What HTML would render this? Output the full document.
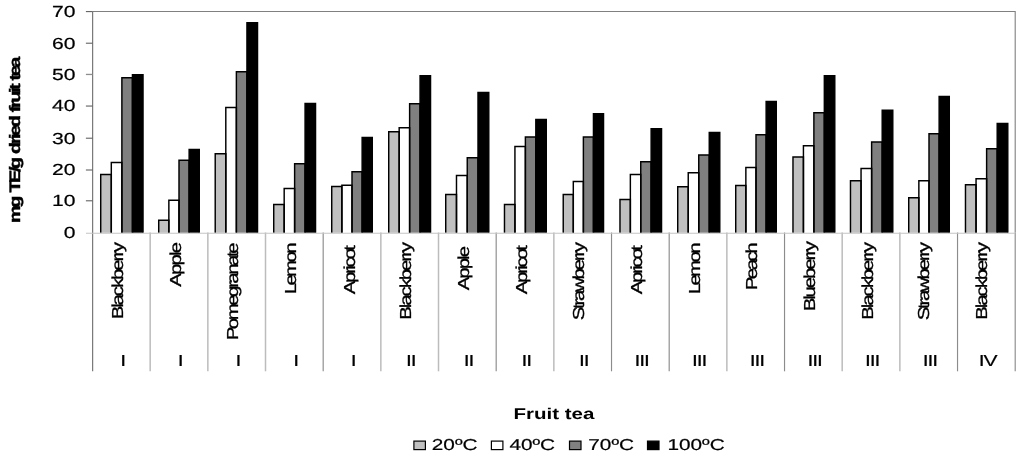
<!DOCTYPE html>
<html lang="en"><head><meta charset="utf-8"><title>Fruit tea chart</title>
<style>html,body{margin:0;padding:0;background:#fff}body{width:1024px;height:459px;overflow:hidden}svg{display:block}text{font-family:"Liberation Sans",Arial,sans-serif;fill:#000;text-rendering:geometricPrecision}</style>
</head><body>
<svg width="1024" height="459" viewBox="0 0 1024 459">
<rect width="1024" height="459" fill="#fff"/>
<path d="M92.5 11.5H1015.2V232.5" fill="none" stroke="#808080" stroke-width="1.1"/>
<path d="M150.17 232.5V371.3" stroke="#bcbcbc" stroke-width="1.5"/>
<path d="M207.84 232.5V371.3" stroke="#bcbcbc" stroke-width="1.5"/>
<path d="M265.51 232.5V371.3" stroke="#bcbcbc" stroke-width="1.5"/>
<path d="M323.18 232.5V371.3" stroke="#8c8c8c" stroke-width="1.15"/>
<path d="M380.84 232.5V371.3" stroke="#bcbcbc" stroke-width="1.5"/>
<path d="M438.51 232.5V371.3" stroke="#bcbcbc" stroke-width="1.5"/>
<path d="M496.18 232.5V371.3" stroke="#8c8c8c" stroke-width="1.15"/>
<path d="M553.85 232.5V371.3" stroke="#bcbcbc" stroke-width="1.5"/>
<path d="M611.52 232.5V371.3" stroke="#8c8c8c" stroke-width="1.15"/>
<path d="M669.19 232.5V371.3" stroke="#8c8c8c" stroke-width="1.15"/>
<path d="M726.86 232.5V371.3" stroke="#bcbcbc" stroke-width="1.5"/>
<path d="M784.53 232.5V371.3" stroke="#8c8c8c" stroke-width="1.15"/>
<path d="M842.19 232.5V371.3" stroke="#bcbcbc" stroke-width="1.5"/>
<path d="M899.86 232.5V371.3" stroke="#bcbcbc" stroke-width="1.5"/>
<path d="M957.53 232.5V371.3" stroke="#8c8c8c" stroke-width="1.15"/>
<path d="M1015.20 232.5V371.3" stroke="#8c8c8c" stroke-width="1.15"/>
<path d="M92.65 11.5V371.3" stroke="#6c6c6c" stroke-width="1.1"/>
<text transform="translate(75.4 237.85) scale(1.31 1)" font-size="16.1" stroke="#000" stroke-width="0.2" text-anchor="end">0</text>
<path d="M85.9 200.80H92.5" stroke="#5a5a5a" stroke-width="1.05"/>
<text transform="translate(75.4 206.15) scale(1.31 1)" font-size="16.1" stroke="#000" stroke-width="0.2" text-anchor="end">10</text>
<path d="M85.9 170.00H92.5" stroke="#5a5a5a" stroke-width="1.05"/>
<text transform="translate(75.4 175.35) scale(1.31 1)" font-size="16.1" stroke="#000" stroke-width="0.2" text-anchor="end">20</text>
<path d="M85.9 138.20H92.5" stroke="#5a5a5a" stroke-width="1.05"/>
<text transform="translate(75.4 143.55) scale(1.31 1)" font-size="16.1" stroke="#000" stroke-width="0.2" text-anchor="end">30</text>
<path d="M85.9 106.05H92.5" stroke="#5a5a5a" stroke-width="1.05"/>
<text transform="translate(75.4 111.40) scale(1.31 1)" font-size="16.1" stroke="#000" stroke-width="0.2" text-anchor="end">40</text>
<path d="M85.9 74.45H92.5" stroke="#8e8e8e" stroke-width="1.3"/>
<text transform="translate(75.4 79.80) scale(1.31 1)" font-size="16.1" stroke="#000" stroke-width="0.2" text-anchor="end">50</text>
<path d="M85.9 43.20H92.5" stroke="#5a5a5a" stroke-width="1.05"/>
<text transform="translate(75.4 48.55) scale(1.31 1)" font-size="16.1" stroke="#000" stroke-width="0.2" text-anchor="end">60</text>
<path d="M85.9 11.60H92.5" stroke="#5a5a5a" stroke-width="1.05"/>
<text transform="translate(75.4 16.95) scale(1.31 1)" font-size="16.1" stroke="#000" stroke-width="0.2" text-anchor="end">70</text>
<rect x="100.72" y="174.47" width="10.57" height="58.33" fill="#c0c0c0"/>
<rect x="111.30" y="162.47" width="10.57" height="70.33" fill="#ffffff"/>
<rect x="121.88" y="77.72" width="10.57" height="155.08" fill="#808080"/>
<rect x="132.45" y="74.72" width="10.57" height="158.08" fill="#000000"/>
<path d="M100.72 232.8V174.47H111.30V232.8" fill="none" stroke="#000" stroke-width="1.45"/>
<path d="M111.30 232.8V162.47H121.88V232.8" fill="none" stroke="#000" stroke-width="1.45"/>
<path d="M121.88 232.8V77.72H132.45V232.8" fill="none" stroke="#000" stroke-width="1.45"/>
<path d="M132.45 232.8V74.72H143.02V232.8" fill="none" stroke="#000" stroke-width="1.45"/>
<rect x="158.72" y="220.22" width="10.14" height="12.58" fill="#c0c0c0"/>
<rect x="168.86" y="200.22" width="10.14" height="32.58" fill="#ffffff"/>
<rect x="179.00" y="160.22" width="10.14" height="72.58" fill="#808080"/>
<rect x="189.14" y="149.47" width="10.14" height="83.33" fill="#000000"/>
<path d="M158.72 232.8V220.22H168.86V232.8" fill="none" stroke="#000" stroke-width="1.45"/>
<path d="M168.86 232.8V200.22H179.00V232.8" fill="none" stroke="#000" stroke-width="1.45"/>
<path d="M179.00 232.8V160.22H189.14V232.8" fill="none" stroke="#000" stroke-width="1.45"/>
<path d="M189.14 232.8V149.47H199.27V232.8" fill="none" stroke="#000" stroke-width="1.45"/>
<rect x="215.22" y="153.72" width="10.57" height="79.08" fill="#c0c0c0"/>
<rect x="225.80" y="107.47" width="10.57" height="125.33" fill="#ffffff"/>
<rect x="236.38" y="71.72" width="10.57" height="161.08" fill="#808080"/>
<rect x="246.95" y="22.73" width="10.57" height="210.08" fill="#000000"/>
<path d="M215.22 232.8V153.72H225.80V232.8" fill="none" stroke="#000" stroke-width="1.45"/>
<path d="M225.80 232.8V107.47H236.37V232.8" fill="none" stroke="#000" stroke-width="1.45"/>
<path d="M236.38 232.8V71.72H246.95V232.8" fill="none" stroke="#000" stroke-width="1.45"/>
<path d="M246.95 232.8V22.73H257.52V232.8" fill="none" stroke="#000" stroke-width="1.45"/>
<rect x="273.73" y="204.47" width="10.45" height="28.33" fill="#c0c0c0"/>
<rect x="284.18" y="188.47" width="10.45" height="44.33" fill="#ffffff"/>
<rect x="294.62" y="163.72" width="10.45" height="69.08" fill="#808080"/>
<rect x="305.08" y="103.47" width="10.45" height="129.33" fill="#000000"/>
<path d="M273.73 232.8V204.47H284.18V232.8" fill="none" stroke="#000" stroke-width="1.45"/>
<path d="M284.18 232.8V188.47H294.62V232.8" fill="none" stroke="#000" stroke-width="1.45"/>
<path d="M294.62 232.8V163.72H305.07V232.8" fill="none" stroke="#000" stroke-width="1.45"/>
<path d="M305.08 232.8V103.47H315.53V232.8" fill="none" stroke="#000" stroke-width="1.45"/>
<rect x="331.73" y="186.47" width="10.14" height="46.33" fill="#c0c0c0"/>
<rect x="341.86" y="185.22" width="10.14" height="47.58" fill="#ffffff"/>
<rect x="352.00" y="171.72" width="10.14" height="61.08" fill="#808080"/>
<rect x="362.14" y="137.47" width="10.14" height="95.33" fill="#000000"/>
<path d="M331.73 232.8V186.47H341.86V232.8" fill="none" stroke="#000" stroke-width="1.45"/>
<path d="M341.86 232.8V185.22H352.00V232.8" fill="none" stroke="#000" stroke-width="1.45"/>
<path d="M352.00 232.8V171.72H362.14V232.8" fill="none" stroke="#000" stroke-width="1.45"/>
<path d="M362.14 232.8V137.47H372.28V232.8" fill="none" stroke="#000" stroke-width="1.45"/>
<rect x="388.73" y="131.72" width="10.45" height="101.08" fill="#c0c0c0"/>
<rect x="399.18" y="127.72" width="10.45" height="105.08" fill="#ffffff"/>
<rect x="409.62" y="103.72" width="10.45" height="129.08" fill="#808080"/>
<rect x="420.08" y="75.72" width="10.45" height="157.08" fill="#000000"/>
<path d="M388.73 232.8V131.72H399.18V232.8" fill="none" stroke="#000" stroke-width="1.45"/>
<path d="M399.18 232.8V127.72H409.62V232.8" fill="none" stroke="#000" stroke-width="1.45"/>
<path d="M409.62 232.8V103.72H420.07V232.8" fill="none" stroke="#000" stroke-width="1.45"/>
<path d="M420.08 232.8V75.72H430.53V232.8" fill="none" stroke="#000" stroke-width="1.45"/>
<rect x="445.73" y="194.47" width="10.76" height="38.33" fill="#c0c0c0"/>
<rect x="456.49" y="175.47" width="10.76" height="57.33" fill="#ffffff"/>
<rect x="467.25" y="157.72" width="10.76" height="75.08" fill="#808080"/>
<rect x="478.01" y="92.47" width="10.76" height="140.33" fill="#000000"/>
<path d="M445.73 232.8V194.47H456.49V232.8" fill="none" stroke="#000" stroke-width="1.45"/>
<path d="M456.49 232.8V175.47H467.25V232.8" fill="none" stroke="#000" stroke-width="1.45"/>
<path d="M467.25 232.8V157.72H478.01V232.8" fill="none" stroke="#000" stroke-width="1.45"/>
<path d="M478.01 232.8V92.47H488.78V232.8" fill="none" stroke="#000" stroke-width="1.45"/>
<rect x="504.48" y="204.47" width="10.45" height="28.33" fill="#c0c0c0"/>
<rect x="514.93" y="146.47" width="10.45" height="86.33" fill="#ffffff"/>
<rect x="525.38" y="136.97" width="10.45" height="95.83" fill="#808080"/>
<rect x="535.83" y="119.47" width="10.45" height="113.33" fill="#000000"/>
<path d="M504.48 232.8V204.47H514.93V232.8" fill="none" stroke="#000" stroke-width="1.45"/>
<path d="M514.93 232.8V146.47H525.38V232.8" fill="none" stroke="#000" stroke-width="1.45"/>
<path d="M525.38 232.8V136.97H535.83V232.8" fill="none" stroke="#000" stroke-width="1.45"/>
<path d="M535.83 232.8V119.47H546.28V232.8" fill="none" stroke="#000" stroke-width="1.45"/>
<rect x="563.23" y="194.47" width="10.07" height="38.33" fill="#c0c0c0"/>
<rect x="573.30" y="181.47" width="10.07" height="51.33" fill="#ffffff"/>
<rect x="583.38" y="136.97" width="10.07" height="95.83" fill="#808080"/>
<rect x="593.45" y="113.72" width="10.07" height="119.08" fill="#000000"/>
<path d="M563.23 232.8V194.47H573.30V232.8" fill="none" stroke="#000" stroke-width="1.45"/>
<path d="M573.30 232.8V181.47H583.38V232.8" fill="none" stroke="#000" stroke-width="1.45"/>
<path d="M583.38 232.8V136.97H593.45V232.8" fill="none" stroke="#000" stroke-width="1.45"/>
<path d="M593.45 232.8V113.72H603.53V232.8" fill="none" stroke="#000" stroke-width="1.45"/>
<rect x="619.98" y="199.47" width="10.39" height="33.33" fill="#c0c0c0"/>
<rect x="630.36" y="174.47" width="10.39" height="58.33" fill="#ffffff"/>
<rect x="640.75" y="161.72" width="10.39" height="71.08" fill="#808080"/>
<rect x="651.14" y="128.72" width="10.39" height="104.08" fill="#000000"/>
<path d="M619.98 232.8V199.47H630.36V232.8" fill="none" stroke="#000" stroke-width="1.45"/>
<path d="M630.36 232.8V174.47H640.75V232.8" fill="none" stroke="#000" stroke-width="1.45"/>
<path d="M640.75 232.8V161.72H651.14V232.8" fill="none" stroke="#000" stroke-width="1.45"/>
<path d="M651.14 232.8V128.72H661.53V232.8" fill="none" stroke="#000" stroke-width="1.45"/>
<rect x="677.73" y="186.72" width="10.51" height="46.08" fill="#c0c0c0"/>
<rect x="688.24" y="172.72" width="10.51" height="60.08" fill="#ffffff"/>
<rect x="698.75" y="154.97" width="10.51" height="77.83" fill="#808080"/>
<rect x="709.26" y="132.47" width="10.51" height="100.33" fill="#000000"/>
<path d="M677.73 232.8V186.72H688.24V232.8" fill="none" stroke="#000" stroke-width="1.45"/>
<path d="M688.24 232.8V172.72H698.75V232.8" fill="none" stroke="#000" stroke-width="1.45"/>
<path d="M698.75 232.8V154.97H709.26V232.8" fill="none" stroke="#000" stroke-width="1.45"/>
<path d="M709.26 232.8V132.47H719.78V232.8" fill="none" stroke="#000" stroke-width="1.45"/>
<rect x="735.73" y="185.47" width="10.14" height="47.33" fill="#c0c0c0"/>
<rect x="745.86" y="167.47" width="10.14" height="65.33" fill="#ffffff"/>
<rect x="756.00" y="134.72" width="10.14" height="98.08" fill="#808080"/>
<rect x="766.14" y="101.47" width="10.14" height="131.33" fill="#000000"/>
<path d="M735.73 232.8V185.47H745.86V232.8" fill="none" stroke="#000" stroke-width="1.45"/>
<path d="M745.86 232.8V167.47H756.00V232.8" fill="none" stroke="#000" stroke-width="1.45"/>
<path d="M756.00 232.8V134.72H766.14V232.8" fill="none" stroke="#000" stroke-width="1.45"/>
<path d="M766.14 232.8V101.47H776.28V232.8" fill="none" stroke="#000" stroke-width="1.45"/>
<rect x="792.98" y="156.97" width="10.45" height="75.83" fill="#c0c0c0"/>
<rect x="803.43" y="145.72" width="10.45" height="87.08" fill="#ffffff"/>
<rect x="813.88" y="112.72" width="10.45" height="120.08" fill="#808080"/>
<rect x="824.33" y="75.72" width="10.45" height="157.08" fill="#000000"/>
<path d="M792.98 232.8V156.97H803.43V232.8" fill="none" stroke="#000" stroke-width="1.45"/>
<path d="M803.43 232.8V145.72H813.88V232.8" fill="none" stroke="#000" stroke-width="1.45"/>
<path d="M813.88 232.8V112.72H824.33V232.8" fill="none" stroke="#000" stroke-width="1.45"/>
<path d="M824.33 232.8V75.72H834.78V232.8" fill="none" stroke="#000" stroke-width="1.45"/>
<rect x="850.48" y="180.72" width="10.57" height="52.08" fill="#c0c0c0"/>
<rect x="861.05" y="168.47" width="10.57" height="64.33" fill="#ffffff"/>
<rect x="871.62" y="141.97" width="10.57" height="90.83" fill="#808080"/>
<rect x="882.20" y="110.22" width="10.57" height="122.58" fill="#000000"/>
<path d="M850.48 232.8V180.72H861.05V232.8" fill="none" stroke="#000" stroke-width="1.45"/>
<path d="M861.05 232.8V168.47H871.63V232.8" fill="none" stroke="#000" stroke-width="1.45"/>
<path d="M871.62 232.8V141.97H882.20V232.8" fill="none" stroke="#000" stroke-width="1.45"/>
<path d="M882.20 232.8V110.22H892.78V232.8" fill="none" stroke="#000" stroke-width="1.45"/>
<rect x="908.73" y="197.72" width="10.14" height="35.08" fill="#c0c0c0"/>
<rect x="918.86" y="180.72" width="10.14" height="52.08" fill="#ffffff"/>
<rect x="929.00" y="133.72" width="10.14" height="99.08" fill="#808080"/>
<rect x="939.14" y="96.47" width="10.14" height="136.33" fill="#000000"/>
<path d="M908.73 232.8V197.72H918.86V232.8" fill="none" stroke="#000" stroke-width="1.45"/>
<path d="M918.86 232.8V180.72H929.00V232.8" fill="none" stroke="#000" stroke-width="1.45"/>
<path d="M929.00 232.8V133.72H939.14V232.8" fill="none" stroke="#000" stroke-width="1.45"/>
<path d="M939.14 232.8V96.47H949.28V232.8" fill="none" stroke="#000" stroke-width="1.45"/>
<rect x="965.48" y="184.72" width="10.57" height="48.08" fill="#c0c0c0"/>
<rect x="976.05" y="178.72" width="10.57" height="54.08" fill="#ffffff"/>
<rect x="986.62" y="148.72" width="10.57" height="84.08" fill="#808080"/>
<rect x="997.20" y="123.47" width="10.57" height="109.33" fill="#000000"/>
<path d="M965.48 232.8V184.72H976.05V232.8" fill="none" stroke="#000" stroke-width="1.45"/>
<path d="M976.05 232.8V178.72H986.63V232.8" fill="none" stroke="#000" stroke-width="1.45"/>
<path d="M986.62 232.8V148.72H997.20V232.8" fill="none" stroke="#000" stroke-width="1.45"/>
<path d="M997.20 232.8V123.47H1007.78V232.8" fill="none" stroke="#000" stroke-width="1.45"/>
<path d="M86.0 233.25H1015.2" fill="none" stroke="#c4c4c4" stroke-width="1.1"/>
<text transform="translate(123.03 242.00) rotate(-90) scale(1.28 1)" font-size="15.9" stroke="#000" stroke-width="0.3" text-anchor="end" textLength="60.39" lengthAdjust="spacing">Blackberry</text>
<text transform="translate(122.53 366.4) scale(1.315 1)" font-size="16" stroke="#000" stroke-width="0.2" letter-spacing="-0.81" text-anchor="middle">I</text>
<text transform="translate(181.20 242.00) rotate(-90) scale(1.28 1)" font-size="15.9" stroke="#000" stroke-width="0.3" text-anchor="end" textLength="34.92" lengthAdjust="spacing">Apple</text>
<text transform="translate(180.20 366.4) scale(1.315 1)" font-size="16" stroke="#000" stroke-width="0.2" letter-spacing="-0.81" text-anchor="middle">I</text>
<text transform="translate(238.27 242.50) rotate(-90) scale(1.28 1)" font-size="15.9" stroke="#000" stroke-width="0.3" text-anchor="end" textLength="76.41" lengthAdjust="spacing">Pomegranate</text>
<text transform="translate(237.87 366.4) scale(1.315 1)" font-size="16" stroke="#000" stroke-width="0.2" letter-spacing="-0.81" text-anchor="middle">I</text>
<text transform="translate(296.34 242.50) rotate(-90) scale(1.28 1)" font-size="15.9" stroke="#000" stroke-width="0.3" text-anchor="end" textLength="40.47" lengthAdjust="spacing">Lemon</text>
<text transform="translate(295.54 366.4) scale(1.315 1)" font-size="16" stroke="#000" stroke-width="0.2" letter-spacing="-0.81" text-anchor="middle">I</text>
<text transform="translate(354.51 245.00) rotate(-90) scale(1.28 1)" font-size="15.9" stroke="#000" stroke-width="0.3" text-anchor="end" textLength="38.52" lengthAdjust="spacing">Apricot</text>
<text transform="translate(353.21 366.4) scale(1.315 1)" font-size="16" stroke="#000" stroke-width="0.2" letter-spacing="-0.81" text-anchor="middle">I</text>
<text transform="translate(411.28 242.00) rotate(-90) scale(1.28 1)" font-size="15.9" stroke="#000" stroke-width="0.3" text-anchor="end" textLength="60.78" lengthAdjust="spacing">Blackberry</text>
<text transform="translate(410.88 366.4) scale(1.315 1)" font-size="16" stroke="#000" stroke-width="0.2" letter-spacing="-0.81" text-anchor="middle">II</text>
<text transform="translate(468.85 246.00) rotate(-90) scale(1.28 1)" font-size="15.9" stroke="#000" stroke-width="0.3" text-anchor="end" textLength="34.61" lengthAdjust="spacing">Apple</text>
<text transform="translate(468.55 366.4) scale(1.315 1)" font-size="16" stroke="#000" stroke-width="0.2" letter-spacing="-0.81" text-anchor="middle">II</text>
<text transform="translate(526.77 245.00) rotate(-90) scale(1.28 1)" font-size="15.9" stroke="#000" stroke-width="0.3" text-anchor="end" textLength="38.52" lengthAdjust="spacing">Apricot</text>
<text transform="translate(526.22 366.4) scale(1.315 1)" font-size="16" stroke="#000" stroke-width="0.2" letter-spacing="-0.81" text-anchor="middle">II</text>
<text transform="translate(583.68 242.00) rotate(-90) scale(1.28 1)" font-size="15.9" stroke="#000" stroke-width="0.3" text-anchor="end" textLength="61.17" lengthAdjust="spacing">Strawberry</text>
<text transform="translate(583.88 366.4) scale(1.315 1)" font-size="16" stroke="#000" stroke-width="0.2" letter-spacing="-0.81" text-anchor="middle">II</text>
<text transform="translate(642.05 245.00) rotate(-90) scale(1.28 1)" font-size="15.9" stroke="#000" stroke-width="0.3" text-anchor="end" textLength="38.52" lengthAdjust="spacing">Apricot</text>
<text transform="translate(641.55 366.4) scale(1.315 1)" font-size="16" stroke="#000" stroke-width="0.2" letter-spacing="-0.81" text-anchor="middle">III</text>
<text transform="translate(700.02 242.50) rotate(-90) scale(1.28 1)" font-size="15.9" stroke="#000" stroke-width="0.3" text-anchor="end" textLength="40.47" lengthAdjust="spacing">Lemon</text>
<text transform="translate(699.22 366.4) scale(1.315 1)" font-size="16" stroke="#000" stroke-width="0.2" letter-spacing="-0.81" text-anchor="middle">III</text>
<text transform="translate(756.99 242.50) rotate(-90) scale(1.28 1)" font-size="15.9" stroke="#000" stroke-width="0.3" text-anchor="end" textLength="37.34" lengthAdjust="spacing">Peach</text>
<text transform="translate(756.89 366.4) scale(1.315 1)" font-size="16" stroke="#000" stroke-width="0.2" letter-spacing="-0.81" text-anchor="middle">III</text>
<text transform="translate(814.96 241.00) rotate(-90) scale(1.28 1)" font-size="15.9" stroke="#000" stroke-width="0.3" text-anchor="end" textLength="54.92" lengthAdjust="spacing">Blueberry</text>
<text transform="translate(814.56 366.4) scale(1.315 1)" font-size="16" stroke="#000" stroke-width="0.2" letter-spacing="-0.81" text-anchor="middle">III</text>
<text transform="translate(872.53 242.00) rotate(-90) scale(1.28 1)" font-size="15.9" stroke="#000" stroke-width="0.3" text-anchor="end" textLength="60.78" lengthAdjust="spacing">Blackberry</text>
<text transform="translate(872.23 366.4) scale(1.315 1)" font-size="16" stroke="#000" stroke-width="0.2" letter-spacing="-0.81" text-anchor="middle">III</text>
<text transform="translate(929.20 242.00) rotate(-90) scale(1.28 1)" font-size="15.9" stroke="#000" stroke-width="0.3" text-anchor="end" textLength="61.17" lengthAdjust="spacing">Strawberry</text>
<text transform="translate(929.90 366.4) scale(1.315 1)" font-size="16" stroke="#000" stroke-width="0.2" letter-spacing="-0.81" text-anchor="middle">III</text>
<text transform="translate(987.27 242.00) rotate(-90) scale(1.28 1)" font-size="15.9" stroke="#000" stroke-width="0.3" text-anchor="end" textLength="60.78" lengthAdjust="spacing">Blackberry</text>
<text transform="translate(987.57 366.4) scale(1.315 1)" font-size="16" stroke="#000" stroke-width="0.2" letter-spacing="-0.81" text-anchor="middle">IV</text>
<text transform="translate(553.9 418.9) scale(1.315 1)" font-size="15.6" font-weight="bold" text-anchor="middle">Fruit tea</text>
<text transform="translate(20.3 141.0) rotate(-90) scale(1.31 1)" stroke="#000" stroke-width="0.45" font-size="15.2" font-weight="bold" text-anchor="middle" letter-spacing="-1.88" word-spacing="1.8">mg TE/g dried fruit tea</text>
<rect x="413.90000000000003" y="441.1" width="11.5" height="8.5" fill="#c0c0c0" stroke="#000" stroke-width="1.2"/>
<text transform="translate(431.8 450) scale(1.315 1)" font-size="15.8" stroke="#000" stroke-width="0.2">20ºC</text>
<rect x="491.40000000000003" y="441.1" width="11.5" height="8.5" fill="#ffffff" stroke="#000" stroke-width="1.2"/>
<text transform="translate(509.4 450) scale(1.315 1)" font-size="15.8" stroke="#000" stroke-width="0.2">40ºC</text>
<rect x="569.5" y="441.1" width="11.5" height="8.5" fill="#808080" stroke="#000" stroke-width="1.2"/>
<text transform="translate(588.3 450) scale(1.315 1)" font-size="15.8" stroke="#000" stroke-width="0.2">70ºC</text>
<rect x="647.5" y="441.1" width="11.5" height="8.5" fill="#000000" stroke="#000" stroke-width="1.2"/>
<text transform="translate(667.4 450) scale(1.315 1)" font-size="15.8" stroke="#000" stroke-width="0.2">100ºC</text>
</svg></body></html>
